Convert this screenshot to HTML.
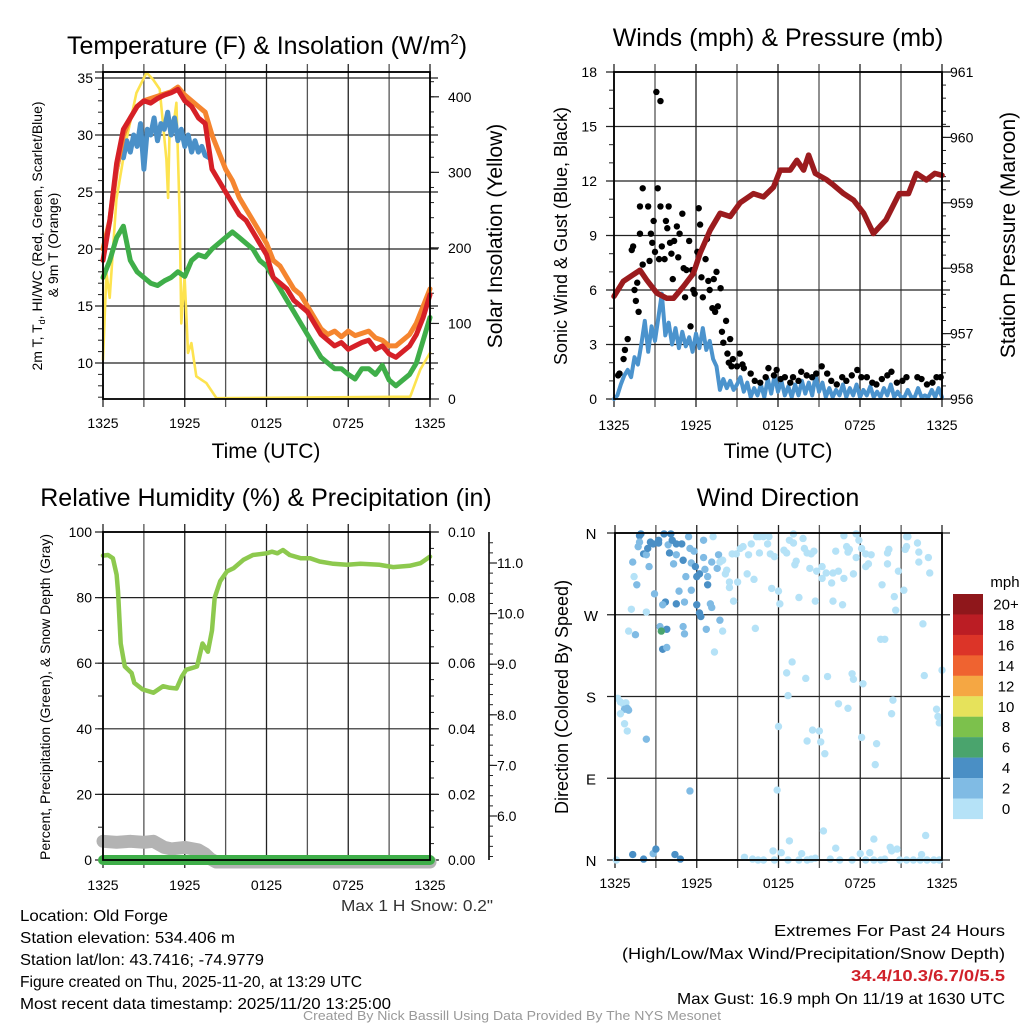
<!DOCTYPE html>
<html><head><meta charset="utf-8">
<style>
html,body{margin:0;padding:0;background:#fff;}
#wrap{position:relative;width:1024px;height:1024px;overflow:hidden;font-family:"Liberation Sans",sans-serif;}
svg{position:absolute;left:0;top:0;}
.t{font-family:"Liberation Sans",sans-serif;fill:#000;}
</style></head>
<body>
<div id="wrap">
<svg id="chart" width="1024" height="1024" viewBox="0 0 1024 1024">
 <text class="t" x="267" y="54" font-size="25" text-anchor="middle">Temperature (F) &amp; Insolation (W/m<tspan font-size="15" dy="-10">2</tspan><tspan dy="10">)</tspan></text>
 <text class="t" x="778" y="46" font-size="25" text-anchor="middle">Winds (mph) &amp; Pressure (mb)</text>
 <text class="t" x="266" y="506" font-size="25" text-anchor="middle">Relative Humidity (%) &amp; Precipitation (in)</text>
 <text class="t" x="778" y="506" font-size="25" text-anchor="middle">Wind Direction</text>

 <text class="t" x="266" y="458" font-size="21" text-anchor="middle">Time (UTC)</text>
 <text class="t" x="778" y="458" font-size="21" text-anchor="middle">Time (UTC)</text>

 <text class="t" font-size="14" text-anchor="middle" transform="translate(42,236) rotate(-90)">2m T, T<tspan font-size="9" dy="3">d</tspan><tspan dy="-3">, HI/WC (Red, Green, Scarlet/Blue)</tspan></text>
 <text class="t" font-size="14" text-anchor="middle" transform="translate(58,245) rotate(-90)">&amp; 9m T (Orange)</text>
 <text class="t" font-size="21" text-anchor="middle" transform="translate(502,236) rotate(-90)">Solar Insolation (Yellow)</text>
 <text class="t" font-size="18" text-anchor="middle" transform="translate(567,236) rotate(-90)">Sonic Wind &amp; Gust (Blue, Black)</text>
 <text class="t" font-size="21" text-anchor="middle" transform="translate(1015,235) rotate(-90)">Station Pressure (Maroon)</text>
 <text class="t" font-size="14" text-anchor="middle" transform="translate(50,697) rotate(-90)">Percent, Precipitation (Green), &amp; Snow Depth (Gray)</text>
 <text class="t" font-size="18" text-anchor="middle" transform="translate(568,697) rotate(-90)">Direction (Colored By Speed)</text>

 <text class="t" x="1005" y="587" font-size="15" text-anchor="middle">mph</text>

 <text class="t" x="341" y="911" font-size="16" textLength="152" lengthAdjust="spacingAndGlyphs" style="fill:#333">Max 1 H Snow: 0.2"</text>
 <g font-size="16">
  <text class="t" x="20" y="921" textLength="148" lengthAdjust="spacingAndGlyphs">Location: Old Forge</text>
  <text class="t" x="20" y="943" textLength="215" lengthAdjust="spacingAndGlyphs">Station elevation: 534.406 m</text>
  <text class="t" x="20" y="965" textLength="244" lengthAdjust="spacingAndGlyphs">Station lat/lon: 43.7416; -74.9779</text>
  <text class="t" x="20" y="987" textLength="342" lengthAdjust="spacingAndGlyphs">Figure created on Thu, 2025-11-20, at 13:29 UTC</text>
  <text class="t" x="20" y="1009" textLength="371" lengthAdjust="spacingAndGlyphs">Most recent data timestamp: 2025/11/20 13:25:00</text>
 </g>
 <g font-size="16">
  <text class="t" x="774" y="936" textLength="231" lengthAdjust="spacingAndGlyphs">Extremes For Past 24 Hours</text>
  <text class="t" x="622" y="959" textLength="383" lengthAdjust="spacingAndGlyphs">(High/Low/Max Wind/Precipitation/Snow Depth)</text>
  <text class="t" x="851" y="981" textLength="154" lengthAdjust="spacingAndGlyphs" font-weight="bold" style="fill:#d0212a">34.4/10.3/6.7/0/5.5</text>
  <text class="t" x="677" y="1004" textLength="328" lengthAdjust="spacingAndGlyphs">Max Gust: 16.9 mph On 11/19 at 1630 UTC</text>
 </g>
 <text class="t" x="303" y="1020" font-size="13" textLength="418" lengthAdjust="spacingAndGlyphs" style="fill:#999">Created By Nick Bassill Using Data Provided By The NYS Mesonet</text>
</svg>
</div>
<script>
// ---------- DATA ----------
const xTickLabels = ["1325","1925","0125","0725","1325"];
const tempHours = [0,0.5,1,1.5,2,2.5,3,3.5,4,4.5,5,5.5,6,6.5,7,7.5,8,8.5,9,9.5,10,10.5,11,11.5,12,12.5,13,13.5,14,14.5,15,15.5,16,16.5,17,17.5,18,18.5,19,19.5,20,20.5,21,21.5,22,22.5,23,23.5,24];
const temp2m = [19,22.5,27.5,30.5,31.5,32.5,33,32.8,33.2,33.5,33.7,34,33,32.5,31.5,31,27,26,25,24,23,22.5,21.5,20.5,19.5,17.5,17,16.5,15.5,15,14.5,13.5,12.5,12,11.5,11.8,11.2,11.5,11.8,12,11.2,11.5,10.8,10.5,11,11.5,12.5,14,16];
const temp9m = [20,22.5,27,30,31.5,32.5,33,33.2,33.4,33.6,33.8,34.2,33.5,33,32.5,32,30,28.5,27,26,24.5,23.5,22.5,21.5,20.5,19,18.5,17.5,16.5,16,15,14,13,12.5,12.8,12.3,12.8,12.4,12.6,12.8,12.2,12,11.5,11.5,12,12.5,13.5,15,16.5];
const dewPoint = [17.5,19,21,22,19,18,17.5,17,16.8,17.2,17.5,18,17.6,19,19.5,19.3,20,20.5,21,21.5,21,20.5,20,19,18.5,17.5,16.5,15.5,14.5,13.5,12.5,11.5,10.5,10,9.5,9.5,9,8.6,9.5,9.5,9,9.8,8.5,8,8.5,9,10,12,14];
const heatHours = [1,1.25,1.5,1.75,2,2.25,2.5,2.75,3,3.25,3.5,3.75,4,4.25,4.5,4.75,5,5.25,5.5,5.75,6,6.25,6.5,6.75,7,7.25,7.5,7.8];
const heatIndex = [27,28.5,28,29.5,28.5,30,29,31,27,30.5,30,31.5,29.5,31,30.5,32,30,31.5,29.5,30.5,29,30,28.5,29.5,28.5,29,28.2,28];
const solarHours = [0,0.25,0.49,0.98,1.72,2.45,3.2,3.67,4.16,4.65,4.78,4.9,5.14,5.39,5.63,5.75,5.99,6.24,6.49,6.85,7.59,8.33,22.55,23.29,24];
const solar = [52,167,134,264,343,405,432,423,410,317,266,370,357,392,242,100,162,61,74,30,21,1,3,39,61];
const windHours = Array.from({length:97},(_,i)=>i*0.25);
const windSpeed = [0,0.2,0.8,1.3,1.6,1.2,2.3,1.9,3.0,4.3,2.6,4.0,3.2,4.5,5.8,3.5,4.2,3.0,3.9,2.8,3.7,2.9,3.4,2.6,3.6,2.8,3.9,2.7,3.2,2.2,1.8,0.5,1.1,0.6,1.0,0.5,0.8,1.2,0.4,0.9,0.1,0.6,0.2,0.8,0.1,1.1,0.3,1.3,0.4,1.0,0.2,0.7,0.1,0.8,0.2,1.0,0.3,0.9,0.2,1.3,0.4,0.9,0.1,0.6,0.1,0.5,0.2,0.8,0.1,0.6,0.2,0.8,0.1,0.5,0.2,0.7,0.1,0.4,0.1,0.6,0.2,0.8,0.1,0.4,0.1,0.1,0.5,0.1,0.1,0.6,0.1,0.2,0.1,0.5,0.1,0.6,0.1];
const gustHours = [0.3,0.4,0.7,0.8,1,1.3,1.4,1.5,1.6,1.7,1.8,1.9,2.1,1.9,2.1,2.5,2.6,2.7,2.8,2.9,3.0,3.1,3.2,3.3,3.4,3.4,3.5,3.7,3.8,3.9,4.0,4.1,4.2,4.3,4.4,4.6,4.7,4.8,5.0,5.1,5.2,5.3,5.5,5.6,5.7,5.8,5.9,6.1,6.2,6.3,6.4,6.5,6.7,6.8,6.9,7.0,7.2,7.3,7.4,7.5,7.6,7.8,7.9,8.0,8.2,8.3,8.4,8.5,8.6,8.7,9.0,9.2,9.4,9.5,10.0,10.3,10.7,11.1,11.3,11.7,11.9,12.2,12.5,12.9,13.1,13.5,13.7,14.1,14.5,14.8,15.2,15.6,15.9,16.3,16.7,17.0,17.4,17.8,18.1,18.5,18.9,19.2,19.6,20.0,20.3,20.7,21.1,21.4,22.2,22.5,22.9,23.3,23.6,23.9];
const gustSpeed = [1.3,1.4,2.2,2.7,3.3,8.2,8.4,6.0,5.4,6.4,4.8,10.6,11.6,9.1,7.4,10.6,7.6,9.1,8.6,9.8,8.1,16.9,11.6,7.7,10.6,16.4,8.4,7.7,9.8,9.4,10.6,8.6,8.0,6.6,8.7,9.5,7.8,9.1,10.2,7.2,5.6,7.1,8.7,4.0,7.1,6.0,5.8,8.1,10.5,9.6,6.7,5.6,7.7,8.8,6.5,6.0,5.0,6.6,4.8,7.0,5.1,6.1,3.7,3.1,4.3,2.5,2.0,3.3,1.8,2.2,1.8,2.5,1.9,1.7,1.4,1.0,0.9,1.2,1.7,1.3,1.6,1.1,1.2,0.9,1.2,1.0,1.5,1.3,1.2,1.4,1.8,1.4,1.0,0.8,1.2,1.0,1.3,1.6,1.2,1.2,0.9,0.8,1.1,1.3,1.5,0.9,1.0,1.2,1.2,1.1,0.8,0.9,1.2,1.2];
const pressHours = [0,0.68,1.9,2.39,3.13,3.86,4.35,5.08,5.81,6.3,7.03,7.76,8.5,9.23,10.2,10.94,11.67,12.16,12.89,13.38,13.87,14.24,14.73,15.57,16.06,16.8,17.53,18.27,18.98,19.9,20.87,21.55,22.13,22.86,23.47];
const pressure = [957.57,957.8,957.97,957.82,957.62,957.54,957.54,957.72,957.92,958.23,958.58,958.84,958.79,959.0,959.14,959.09,959.24,959.5,959.5,959.65,959.5,959.73,959.45,959.35,959.27,959.14,959.04,958.84,958.53,958.74,959.14,959.14,959.45,959.35,959.45];
const pressureEnd = 959.42;
const rhHours = [0,0.37,0.73,1,1.1,1.3,1.6,2.1,2.3,2.9,3.7,4.4,4.9,5.4,5.8,6.1,6.9,7.3,7.7,8.0,8.2,8.6,9.1,9.6,10.3,11,12,12.4,12.8,13.2,13.7,14.5,15.2,15.9,16.9,17.9,18.9,20.3,21.3,22.5,23.3,24];
const rh = [92.8,93,92,87,82,66,59,57,54,52,51,53,52.5,52.3,56,58,59,66,63.5,70,80,85,88,89,91.5,93,93.5,94,93.5,94.5,93,92,92,91,90.3,90,90.3,90,89.3,89.7,90.5,92.5];
const snowHours = [0,1,2,3,3.7,4.5,5,6,7,7.5,7.9,8.3,24];
const snowDepth = [5.5,5.48,5.5,5.48,5.5,5.38,5.35,5.38,5.33,5.25,5.15,5.05,5.05];
const precipHours = [0,24];
const precip = [0,0];
const dirHours = [1.8,1.9,1.8,1.7,2.1,2.3,2.4,2.6,2.8,3.2,3.2,3.6,4.1,3.9,4.2,4.5,4.9,4.0,4.5,4.3,5.0,5.4,5.5,5.8,5.6,5.9,6.0,6.2,6.5,6.5,6.6,6.8,7.1,7.6,7.5,7.7,6.8,5.2,4.7,5.6,5.1,4.5,3.7,3.5,2.9,1.3,1.4,1.6,2.5,6.0,6.2,6.3,7.0,7.1,7.7,6.7,7.9,5.0,5.1,3.8,3.3,3.4,3.5,3.8,2.3,1.2,1.0,1.5,7.3,
 0.2,0.4,0.6,0.8,0.9,0.7,1.0,0.4,0.7,0.9,2.3,5.5,11.9,1.3,2.1,2.8,3.0,4.4,4.8,0.1,
 7.2,8.6,8.9,9.2,9.4,9.8,10.0,10.4,10.6,10.9,11.3,11.2,10.6,11.4,11.7,12.4,12.6,12.8,13.1,13.1,13.3,13.2,13.8,13.9,14.1,14.4,14.6,14.3,14.8,15.2,15.5,15.2,15.9,16.0,16.4,16.2,16.8,16.8,17.0,17.1,17.2,17.7,17.7,17.9,18.1,18.4,18.8,18.6,18.4,17.5,20.0,20.1,20.0,19.6,20.5,20.6,20.8,21.2,21.3,21.4,21.4,21.5,22.2,22.3,22.3,23.0,23.1,22.6,22.7,24.0,19.5,19.8,7.9,8.1,8.2,8.4,8.4,8.7,9.0,9.7,10.2,11.5,12.0,12.1,13.5,14.7,16.0,16.7,10.3,13.0,12.6,12.7,14.0,15.6,17.4,17.5,18.2,16.4,17.1,20.4,20.3,23.6,23.7,23.8,12.0,14.5,15.0,14.1,15.1,15.4,18.1,19.2,19.1,15.3,12.8,16.2,19.0,22.8,11.6,12.2,13.7,18.0,18.7,20.2,20.3,20.7,22.5,
 9.5,10.1,10.5,10.9,11.7,12.7,13.5,14.1,14.4,14.7,15.8,16.5,17.4,18.4,19.0,19.5,19.8,20.9,21.4,21.9,22.4,22.9,23.4,23.8];
const dirDegrees = [357,359,350,345,337,336,343,350,348,352,349,359,359,347,352,348,348,338,336,326,330,356,343,340,327,323,312,315,352,333,320,312,328,336,321,328,303,312,296,297,284,282,284,281,293,328,312,303,323,281,272,268,282,278,264,254,252,257,249,254,257,252,232,234,273,276,252,248,229,
 178,174,172,173,167,166,165,161,150,142,133,76,77,6,1,7,12,6,1,0,
 356,337,337,343,345,336,348,356,356,356,356,348,338,337,334,341,338,352,359,349,329,325,354,343,338,337,340,321,318,323,316,310,305,316,318,340,310,357,345,339,342,359,333,352,343,337,336,326,323,315,338,342,326,303,290,275,318,297,342,345,356,356,349,339,328,333,316,260,203,209,243,243,330,315,319,300,306,285,306,315,309,299,296,282,289,285,285,281,255,218,206,181,200,202,205,199,194,172,167,176,161,166,158,151,147,143,142,131,130,117,135,128,105,32,21,13,23,27,10,8,7,7,8,14,10,12,6,
 3,1,0,0,0,0,0,0,1,2,1,0,0,0,0,0,1,0,0,0,0,0,0,0];
const dirSpeedClass = [5,5,3,3,5,3,5,5,5,5,5,5,5,3,5,5,5,5,3,3,5,3,3,3,3,5,5,5,3,3,3,3,3,3,3,1,5,3,3,3,3,5,5,3,3,3,1,3,3,5,5,5,3,3,3,3,1,3,3,5,3,7,5,3,1,1,1,3,1,
 1,1,1,1,3,3,3,1,1,1,3,3,1,5,5,3,5,5,5,1];
const colorbarLabels = ["20+","18","16","14","12","10","8","6","4","2","0"];
const colorbarColors = ["#8f171b","#bb1d24","#dc3428","#ef6330","#f5a743","#e6e25b","#7cc14c","#4aa46d","#4a8fc5","#80bbe4","#b5e2f7"];

// ---------- SCALES ----------
const NS = "http://www.w3.org/2000/svg";
const svg = document.getElementById("chart");
const P1 = {L:103,R:430,T:72,B:399};
const P2 = {L:614,R:942,T:72,B:399};
const P3 = {L:103,R:430,T:532,B:860};
const P4 = {L:615,R:942,T:533,B:860};
const xOf = (P,h)=>P.L + h*(P.R-P.L)/24;
const yTemp = v=>78+(35-v)*11.4;
const ySolar = v=>399-v*0.7555;
const yWind = v=>399-v*(327/18);
const yPress = p=>399-(p-956)*(327/5);
const yRH = v=>860-v*3.28;
const yPrecip = v=>860-v*3280;
const ySnow = v=>Math.min(862,563+(11-v)*50.6);
const yDir = d=>860-d*(327/360);

function mk(tag){ const e=document.createElementNS(NS,tag); return e; }
function ln(g,x1,y1,x2,y2,c,w){ const e=mk("line"); e.setAttribute("x1",x1);e.setAttribute("y1",y1);e.setAttribute("x2",x2);e.setAttribute("y2",y2);e.setAttribute("stroke",c);e.setAttribute("stroke-width",w); g.appendChild(e); return e; }
function tx(g,x,y,s,size,anchor){ const e=mk("text"); e.setAttribute("x",x);e.setAttribute("y",y);e.setAttribute("font-size",size);e.setAttribute("text-anchor",anchor);e.setAttribute("font-family","Liberation Sans, sans-serif"); e.textContent=s; g.appendChild(e); return e; }
function group(name){ const g=mk("g"); svg.appendChild(g);   return g; }
function pathD(xs,ys){ return xs.map((x,i)=>(i?"L":"M")+x.toFixed(1)+","+ys[i].toFixed(1)).join(""); }
function poly(g,d,c,w){ const e=mk("path"); e.setAttribute("d",d); e.setAttribute("fill","none"); e.setAttribute("stroke",c); e.setAttribute("stroke-width",w); e.setAttribute("stroke-linejoin","round"); e.setAttribute("stroke-linecap","round"); g.appendChild(e); return e; }

function frame(P,name,labelY){
  const g=group(name);
  for(let i=0;i<=8;i++){ const x=xOf(P,i*3); const l=ln(g,x,P.T-8,x,P.B+8,i%2?"#555":"#222",1.3);
      }
  for(let i=0;i<5;i++){ const x=xOf(P,i*6); const t=tx(g,x,labelY,xTickLabels[i],14,"middle");
      }
  return g;
}
function hgrid(g,P,y,label,lx){
  const l=ln(g,P.L-8,y,P.R+8,y,"#222",1.2);
   
  if(label!==null){ const t=tx(g,lx,y+5,label,14,"end");   }
}
function border(g,P){ const r=mk("rect"); r.setAttribute("x",P.L);r.setAttribute("y",P.T);r.setAttribute("width",P.R-P.L);r.setAttribute("height",P.B-P.T);r.setAttribute("fill","none");r.setAttribute("stroke","#000");r.setAttribute("stroke-width",1.8); g.appendChild(r);
    }
function minorTicks(g,x,yA,yB,step,dir){ for(let y=yA;y<=yB+0.1;y+=step){ ln(g,x,y,x+dir*4,y,"#222",1); } }

// ---------- PANEL 1 ----------
const g1=frame(P1,"temperature-panel",428);
[10,15,20,25,30,35].forEach(v=>hgrid(g1,P1,yTemp(v),String(v),93));
ln(g1,P1.L-8,P1.T,P1.R,P1.T,"#222",1.2);
minorTicks(g1,P1.L-1,yTemp(35),yTemp(7),11.4,-1);
[0,100,200,300,400].forEach(v=>{ const y=ySolar(v); ln(g1,P1.R,y,P1.R+9,y,"#222",1.2); const t=tx(g1,448,y+5,String(v),14,"start");   });
minorTicks(g1,P1.R,ySolar(420),ySolar(0),0.7555*20,1);
const sYel=poly(g1,pathD(solarHours.map(h=>xOf(P1,h)),solar.map(ySolar)),"#fde34f",2.6);
 
const sGreen=poly(g1,pathD(tempHours.map(h=>xOf(P1,h)),dewPoint.map(yTemp)),"#3fae49",5);
 
const sBlue=poly(g1,pathD(heatHours.map(h=>xOf(P1,h)),heatIndex.map(yTemp)),"#4a90c8",5);
 
const sOr=poly(g1,pathD(tempHours.map(h=>xOf(P1,h)),temp9m.map(yTemp)),"#f5852f",5);
 
const sRed=poly(g1,pathD(tempHours.map(h=>xOf(P1,h)),temp2m.map(yTemp)),"#d62027",5);
 
border(g1,P1);

// ---------- PANEL 2 ----------
const g2=frame(P2,"winds-panel",430);
[0,3,6,9,12,15,18].forEach(v=>hgrid(g2,P2,yWind(v),String(v),597));
minorTicks(g2,P2.L-1,yWind(18),yWind(0),18.17,-1);
[956,957,958,959,960,961].forEach(p=>{ const y=yPress(p); ln(g2,P2.R,y,P2.R+9,y,"#222",1.2); const t=tx(g2,950,y+5,String(p),14,"start");   });
minorTicks(g2,P2.R,yPress(961),yPress(956),65.4/5,1);
const wBlue=poly(g2,pathD(windHours.map(h=>xOf(P2,h)),windSpeed.map(yWind)),"#4b93cd",4);
 
gustHours.forEach((h,i)=>{ const c=mk("circle"); c.setAttribute("cx",xOf(P2,h)); c.setAttribute("cy",yWind(gustSpeed[i])); c.setAttribute("r",3.2); c.setAttribute("fill","#000"); g2.appendChild(c);
  
   });
const pX=pressHours.map(h=>xOf(P2,h)).concat([xOf(P2,24)]);
const pY=pressure.map(yPress).concat([yPress(pressureEnd)]);
const pm=poly(g2,pathD(pX,pY),"#9b1b1e",5.5);
 
border(g2,P2);

// ---------- PANEL 3 ----------
const g3=frame(P3,"humidity-panel",890);
[0,20,40,60,80,100].forEach(v=>hgrid(g3,P3,yRH(v),String(v),92));
minorTicks(g3,P3.L-1,yRH(100),yRH(0),3.28*10,-1);
[0,0.02,0.04,0.06,0.08,0.10].forEach(v=>{ const y=yPrecip(v); ln(g3,P3.R,y,P3.R+9,y,"#222",1.2); const t=tx(g3,448,y+5,v.toFixed(2),14,"start");   });
minorTicks(g3,P3.R,yPrecip(0.1),yPrecip(0),3.28*5,1);
const ax3=ln(g3,489,532,489,860,"#222",1.8);
 
[6,7,8,9,10,11].forEach(v=>{ const y=ySnow(v); ln(g3,489,y,497,y,"#222",1.2); const t=tx(g3,497,y+5,v.toFixed(1),14,"start");   });
for(let v=5.2;v<=11.45;v+=0.2){ ln(g3,489,ySnow(v),493,ySnow(v),"#222",1); }
const snow=poly(g3,pathD(snowHours.map(h=>xOf(P3,h)),snowDepth.map(ySnow)),"#b3b3b3",13);
 
const pr=poly(g3,pathD(precipHours.map(h=>xOf(P3,h)),precip.map(yPrecip)),"#3fae49",10);
 
const rhl=poly(g3,pathD(rhHours.map(h=>xOf(P3,h)),rh.map(yRH)),"#8dc94e",4.5);
 
border(g3,P3);

// ---------- PANEL 4 ----------
const g4=frame(P4,"wind-direction-panel",888);
const dirLabels=["N","E","S","W","N"];
[0,90,180,270,360].forEach((d,i)=>{ const y=yDir(d); ln(g4,P4.L-8,y,P4.R+8,y,"#222",1.2); const t=tx(g4,591,y+6,dirLabels[i],15,"middle");   });
function speedColor(s){ const idx=Math.min(10,Math.floor(s/2)); return colorbarColors[10-idx]; }
dirHours.forEach((h,i)=>{ const s=i<dirSpeedClass.length?dirSpeedClass[i]:1; const c=mk("circle"); c.setAttribute("cx",xOf(P4,h)); c.setAttribute("cy",yDir(dirDegrees[i])); c.setAttribute("r",3.7); c.setAttribute("fill",speedColor(s)); g4.appendChild(c);
  
   });
border(g4,P4);
const cb=group("speed-colorbar");
colorbarColors.forEach((col,i)=>{ const r=mk("rect"); r.setAttribute("x",953); r.setAttribute("y",594+i*20.45); r.setAttribute("width",30); r.setAttribute("height",20.6); r.setAttribute("fill",col); cb.appendChild(r);
  
  
  const t=tx(cb,1006,594+i*20.45+15.5,colorbarLabels[i],15,"middle");
  
   });
</script>
</body></html>
